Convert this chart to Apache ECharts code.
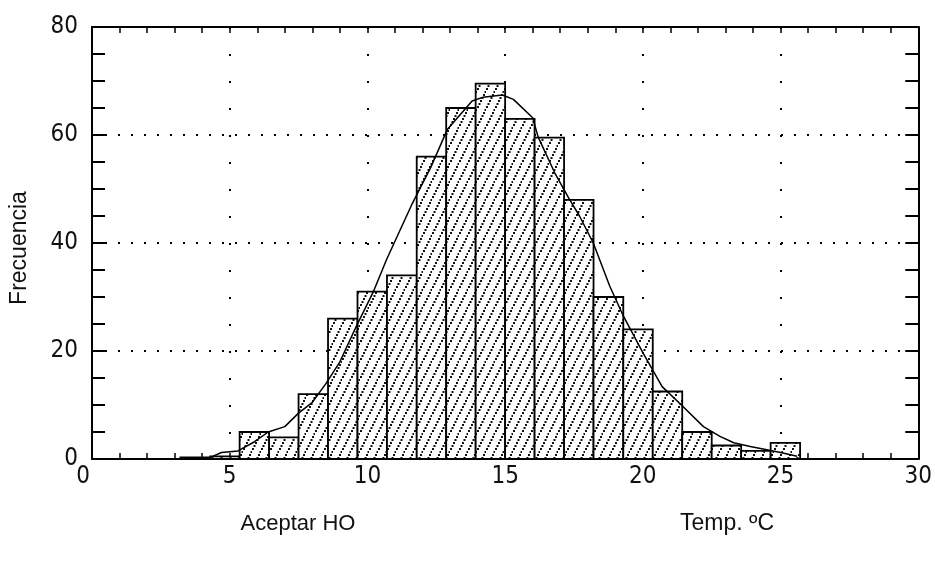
<!DOCTYPE html>
<html>
<head>
<meta charset="utf-8">
<script src="https://cdn.jsdelivr.net/npm/echarts@6/dist/echarts.min.js"></script>
<style>html,body{margin:0;padding:0;background:#fff;}#c{width:935px;height:565px;}</style>
</head>
<body>
<div id="c"></div>
<script>
// Histogram bins (left edge, right edge, frequency)
var binLeft  = [3.21, 4.29, 5.36, 6.43, 7.50, 8.57, 9.64, 10.71, 11.79, 12.86, 13.93, 15.00, 16.07, 17.14, 18.21, 19.29, 20.36, 21.43, 22.50, 23.57, 24.64];
var binRight = [4.29, 5.36, 6.43, 7.50, 8.57, 9.64, 10.71, 11.79, 12.86, 13.93, 15.00, 16.07, 17.14, 18.21, 19.29, 20.36, 21.43, 22.50, 23.57, 24.64, 25.71];
var freq     = [0.3, 0.5, 5, 4, 12, 26, 31, 34, 56, 65, 69.5, 63, 59.5, 48, 30, 24, 12.5, 5, 2.5, 1.5, 3];

// Fitted curve
var curveX = [3.5, 4.3, 4.7, 5.3, 5.9, 6.4, 7.0, 7.5, 8.0, 8.5, 9.0, 9.6, 10.2, 10.7, 11.6, 12.3, 12.9, 13.8, 14.2, 14.9, 15.3, 16.0, 16.2, 16.8, 17.3, 17.7, 18.2, 18.8, 19.3, 20.0, 20.7, 21.4, 22.2, 22.8, 23.3, 23.9, 24.5, 25.0, 25.6];
var curveY = [0, 0.3, 1.2, 1.5, 3.2, 5.0, 6.0, 8.5, 10.5, 14, 18, 24.6, 30.8, 37, 47, 54, 61, 66.3, 67, 67.4, 66.6, 63.2, 59.6, 53, 48.4, 45, 40, 32, 26.4, 19.7, 13.4, 10, 6, 4.2, 3, 2.3, 1.7, 1.2, 0.5];

var xTicks = [0, 5, 10, 15, 20, 25, 30];
var yTicks = [0, 20, 40, 60, 80];
var yTitle = 'Frecuencia';
var leftNote = 'Aceptar HO';
var rightNote = 'Temp. ºC';

var barData = binLeft.map(function (l, i) { return [l, binRight[i], freq[i]]; });
var curveData = curveX.map(function (x, i) { return [x, curveY[i]]; });

// hatch pattern (dotted diagonal lines)
var cv = document.createElement('canvas');
cv.width = 9; cv.height = 18;
var ctx = cv.getContext('2d');
ctx.fillStyle = '#fff'; ctx.fillRect(0, 0, 9, 18);
ctx.fillStyle = '#111';
for (var t = 0; t < 6; t++) {
  ctx.fillRect(t * 1.5, 16 - t * 3, 2, 2);
}
var hatch = { image: cv, repeat: 'repeat' };

var tickFont = '"Liberation Sans Narrow", "DejaVu Sans Condensed", "Liberation Sans", sans-serif';
var chart = echarts.init(document.getElementById('c'), null, { renderer: 'canvas' });

function xAxisDef(pos, showLabel) {
  return {
    type: 'value', position: pos, min: 0, max: 30, interval: 5,
    axisLine: { show: true, onZero: false, lineStyle: { color: '#000', width: 2 } },
    axisTick: { show: true, inside: true, length: 6, lineStyle: { color: '#000', width: 1.5 } },
    minorTick: { show: true, splitNumber: 5, length: 6, lineStyle: { color: '#000', width: 1.5 } },
    axisLabel: { show: showLabel, margin: 6, color: '#111', fontSize: 24, fontFamily: tickFont,
      formatter: function (v) {
        if (xTicks.indexOf(v) < 0) return '';
        if (v === 0) return '{a|' + v + '}';
        return String(v);
      },
      rich: {
        a: { fontSize: 24, fontFamily: tickFont, color: '#111', padding: [0, 18, 0, 0] }
      } },
    splitLine: { show: pos === 'bottom', lineStyle: { color: '#000', width: 2, type: [2, 25] } }
  };
}
function yAxisDef(pos, showLabel) {
  return {
    type: 'value', position: pos, min: 0, max: 80, interval: 20,
    axisLine: { show: true, onZero: false, lineStyle: { color: '#000', width: 2 } },
    axisTick: { show: true, inside: true, length: 13, lineStyle: { color: '#000', width: 2 } },
    minorTick: { show: true, splitNumber: 4, length: 13, lineStyle: { color: '#000', width: 2 } },
    axisLabel: { show: showLabel, margin: 14, color: '#111', fontSize: 24, fontFamily: tickFont,
      formatter: function (v) { return yTicks.indexOf(v) >= 0 ? String(v) : ''; } },
    splitLine: { show: pos === 'left', lineStyle: { color: '#000', width: 2, type: [2, 11] } }
  };
}

chart.setOption({
  animation: false,
  backgroundColor: '#fff',
  grid: { left: 92, right: 16, top: 27, bottom: 106 },
  xAxis: [xAxisDef('bottom', true), xAxisDef('top', false)],
  yAxis: [yAxisDef('left', true), yAxisDef('right', false)],
  series: [
    {
      type: 'custom', xAxisIndex: 0, yAxisIndex: 0, z: 3,
      data: barData,
      encode: { x: [0, 1], y: 2 },
      renderItem: function (params, api) {
        var p0 = api.coord([api.value(0), api.value(2)]);
        var p1 = api.coord([api.value(1), 0]);
        return {
          type: 'rect',
          shape: { x: p0[0], y: p0[1], width: p1[0] - p0[0], height: p1[1] - p0[1] },
          style: { fill: hatch, stroke: '#000', lineWidth: 1.8 }
        };
      }
    },
    {
      type: 'line', xAxisIndex: 0, yAxisIndex: 0, z: 4,
      data: curveData, showSymbol: false, smooth: false,
      lineStyle: { color: '#000', width: 1.5 }
    }
  ],
  graphic: [
    { type: 'text', x: 20, y: 248, rotation: Math.PI / 2, style: { text: yTitle, font: '23px "Liberation Sans"', fill: '#111', textAlign: 'center', textVerticalAlign: 'middle' } },
    { type: 'text', x: 298, y: 524, style: { text: leftNote, font: '22px "Liberation Sans"', fill: '#111', textAlign: 'center', textVerticalAlign: 'middle' } },
    { type: 'text', x: 727, y: 524, style: { text: rightNote, font: '23px "Liberation Sans"', fill: '#111', textAlign: 'center', textVerticalAlign: 'middle' } }
  ]
});
</script>
</body>
</html>
